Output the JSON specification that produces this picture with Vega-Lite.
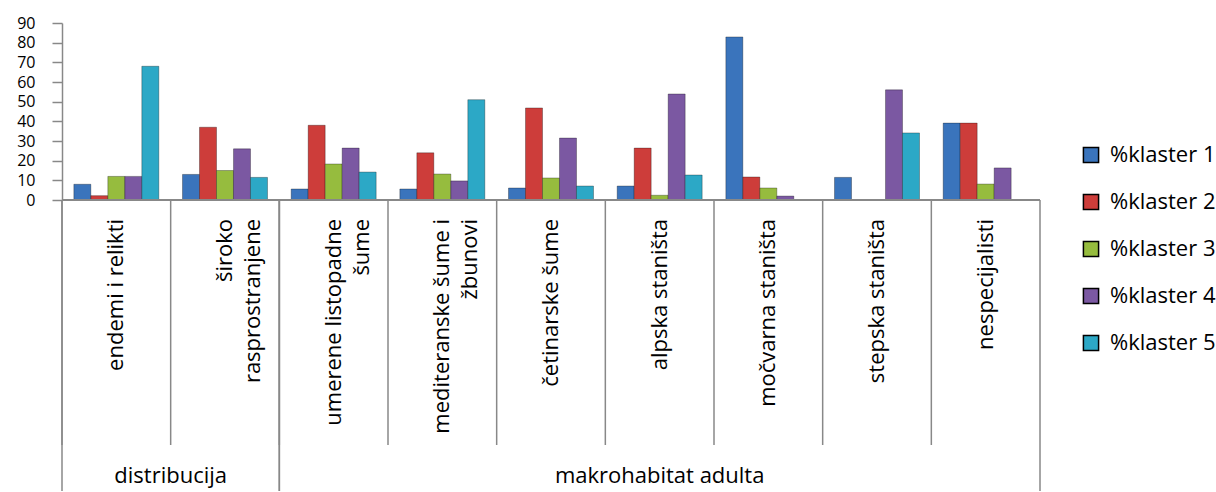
{
  "$schema": "https://vega.github.io/schema/vega-lite/v6.json",
  "padding": {"left": 5, "top": 15, "right": 0, "bottom": 0},
  "spacing": 0,
  "bounds": "flush",
  "datasets": {
    "bars": [
      {"cat": "endemi i relikti", "series": "%klaster 1", "value": 8},
      {"cat": "endemi i relikti", "series": "%klaster 2", "value": 2.2},
      {"cat": "endemi i relikti", "series": "%klaster 3", "value": 12},
      {"cat": "endemi i relikti", "series": "%klaster 4", "value": 12},
      {"cat": "endemi i relikti", "series": "%klaster 5", "value": 68},
      {"cat": "široko rasprostranjene", "series": "%klaster 1", "value": 13},
      {"cat": "široko rasprostranjene", "series": "%klaster 2", "value": 37},
      {"cat": "široko rasprostranjene", "series": "%klaster 3", "value": 15},
      {"cat": "široko rasprostranjene", "series": "%klaster 4", "value": 26},
      {"cat": "široko rasprostranjene", "series": "%klaster 5", "value": 11.5},
      {"cat": "umerene listopadne šume", "series": "%klaster 1", "value": 5.6},
      {"cat": "umerene listopadne šume", "series": "%klaster 2", "value": 38},
      {"cat": "umerene listopadne šume", "series": "%klaster 3", "value": 18.3},
      {"cat": "umerene listopadne šume", "series": "%klaster 4", "value": 26.4},
      {"cat": "umerene listopadne šume", "series": "%klaster 5", "value": 14.2},
      {"cat": "mediteranske šume i žbunovi", "series": "%klaster 1", "value": 5.6},
      {"cat": "mediteranske šume i žbunovi", "series": "%klaster 2", "value": 24},
      {"cat": "mediteranske šume i žbunovi", "series": "%klaster 3", "value": 13.2},
      {"cat": "mediteranske šume i žbunovi", "series": "%klaster 4", "value": 9.7},
      {"cat": "mediteranske šume i žbunovi", "series": "%klaster 5", "value": 51},
      {"cat": "četinarske šume", "series": "%klaster 1", "value": 6.1},
      {"cat": "četinarske šume", "series": "%klaster 2", "value": 46.8},
      {"cat": "četinarske šume", "series": "%klaster 3", "value": 11.2},
      {"cat": "četinarske šume", "series": "%klaster 4", "value": 31.5},
      {"cat": "četinarske šume", "series": "%klaster 5", "value": 7.1},
      {"cat": "alpska staništa", "series": "%klaster 1", "value": 7.1},
      {"cat": "alpska staništa", "series": "%klaster 2", "value": 26.4},
      {"cat": "alpska staništa", "series": "%klaster 3", "value": 2.4},
      {"cat": "alpska staništa", "series": "%klaster 4", "value": 53.9},
      {"cat": "alpska staništa", "series": "%klaster 5", "value": 12.7},
      {"cat": "močvarna staništa", "series": "%klaster 1", "value": 82.9},
      {"cat": "močvarna staništa", "series": "%klaster 2", "value": 11.7},
      {"cat": "močvarna staništa", "series": "%klaster 3", "value": 6.1},
      {"cat": "močvarna staništa", "series": "%klaster 4", "value": 2},
      {"cat": "močvarna staništa", "series": "%klaster 5", "value": 0},
      {"cat": "stepska staništa", "series": "%klaster 1", "value": 11.5},
      {"cat": "stepska staništa", "series": "%klaster 2", "value": 0},
      {"cat": "stepska staništa", "series": "%klaster 3", "value": 0},
      {"cat": "stepska staništa", "series": "%klaster 4", "value": 56},
      {"cat": "stepska staništa", "series": "%klaster 5", "value": 34.1},
      {"cat": "nespecijalisti", "series": "%klaster 1", "value": 39.1},
      {"cat": "nespecijalisti", "series": "%klaster 2", "value": 39.1},
      {"cat": "nespecijalisti", "series": "%klaster 3", "value": 8.1},
      {"cat": "nespecijalisti", "series": "%klaster 4", "value": 16.3},
      {"cat": "nespecijalisti", "series": "%klaster 5", "value": 0}
    ],
    "cats": [
      {"cat": "endemi i relikti", "label": "endemi i relikti"},
      {"cat": "široko rasprostranjene", "label": "široko\nrasprostranjene"},
      {"cat": "umerene listopadne šume", "label": "umerene listopadne\nšume"},
      {"cat": "mediteranske šume i žbunovi", "label": "mediteranske šume i\nžbunovi"},
      {"cat": "četinarske šume", "label": "četinarske šume"},
      {"cat": "alpska staništa", "label": "alpska staništa"},
      {"cat": "močvarna staništa", "label": "močvarna staništa"},
      {"cat": "stepska staništa", "label": "stepska staništa"},
      {"cat": "nespecijalisti", "label": "nespecijalisti"}
    ],
    "groups": [
      {"group": "distribucija", "first": "endemi i relikti", "last": "široko rasprostranjene", "mid": "široko rasprostranjene"},
      {"group": "makrohabitat adulta", "first": "umerene listopadne šume", "last": "nespecijalisti", "mid": "alpska staništa"}
    ]
  },
  "vconcat": [
    {
      "width": 978,
      "height": 177,
      "data": {"name": "bars"},
      "layer": [
        {
          "transform": [{"filter": "datum.value > 0"}],
          "mark": {"type": "bar", "stroke": "#000", "strokeOpacity": 0.3, "strokeWidth": 1},
          "encoding": {
            "x": {
              "field": "cat", "type": "nominal", "sort": null,
              "scale": {"paddingInner": 0.218, "paddingOuter": 0.109},
              "axis": null
            },
            "xOffset": {"field": "series", "type": "nominal"},
            "y": {
              "field": "value", "type": "quantitative",
              "scale": {"domain": [0, 90]},
              "axis": {
                "values": [0, 10, 20, 30, 40, 50, 60, 70, 80, 90],
                "labelOverlap": false,
                "grid": false, "title": null,
                "labelFontSize": 16, "labelFont": "Open Sans", "labelColor": "#000",
                "labelPadding": 17, "tickSize": 10, "tickColor": "#888", "tickWidth": 1.5,
                "domainColor": "#888", "domainWidth": 1.5,
                "minExtent": 57, "maxExtent": 57
              }
            },
            "color": {
              "field": "series", "type": "nominal",
              "scale": {"range": ["#3A74BC", "#CD3D3A", "#96BC3E", "#7B58A2", "#2CA8C6"]},
              "legend": {
                "title": null, "orient": "none", "legendX": 1018, "legendY": 121,
                "labelFontSize": 22, "labelFont": "Open Sans", "labelColor": "#000",
                "symbolType": "square", "symbolSize": 230, "rowPadding": 25,
                "labelOffset": 8, "padding": 0, "labelLimit": 200
              }
            }
          }
        },
        {
          "mark": {"type": "rule", "color": "#888", "strokeWidth": 1.5},
          "encoding": {
            "y": {
              "datum": 0, "type": "quantitative",
              "axis": {
                "values": [0, 10, 20, 30, 40, 50, 60, 70, 80, 90],
                "labelOverlap": false,
                "grid": false, "title": null,
                "labelFontSize": 16, "labelFont": "Open Sans", "labelColor": "#000",
                "labelPadding": 17, "tickSize": 10, "tickColor": "#888", "tickWidth": 1.5,
                "domainColor": "#888", "domainWidth": 1.5,
                "minExtent": 57, "maxExtent": 57
              }
            }
          }
        }
      ]
    },
    {
      "width": 978,
      "height": 291,
      "layer": [
        {
          "data": {"name": "cats"},
          "mark": {"type": "rule", "color": "#888", "strokeWidth": 1.5},
          "encoding": {
            "x": {"field": "cat", "type": "nominal", "bandPosition": 0,
              "scale": {"type": "band", "paddingInner": 0, "paddingOuter": 0,
                "domain": ["endemi i relikti", "široko rasprostranjene", "umerene listopadne šume", "mediteranske šume i žbunovi", "četinarske šume", "alpska staništa", "močvarna staništa", "stepska staništa", "nespecijalisti"]},
              "axis": null},
            "y": {"datum": 0, "type": "quantitative", "scale": {"domain": [0, 100], "reverse": true}, "axis": null},
            "y2": {"datum": 84.2}
          }
        },
        {
          "data": {"name": "groups"},
          "mark": {"type": "rule", "color": "#888", "strokeWidth": 1.5},
          "encoding": {
            "x": {"field": "first", "type": "nominal", "bandPosition": 0},
            "y": {"datum": 0, "type": "quantitative"},
            "y2": {"datum": 100}
          }
        },
        {
          "data": {"name": "groups"},
          "mark": {"type": "rule", "color": "#888", "strokeWidth": 1.5},
          "encoding": {
            "x": {"field": "last", "type": "nominal", "bandPosition": 1},
            "y": {"datum": 0, "type": "quantitative"},
            "y2": {"datum": 100}
          }
        },
        {
          "data": {"name": "cats"},
          "mark": {"type": "text", "angle": 270, "align": "right", "baseline": "middle", "lineBreak": "\n", "lineHeight": 28, "fontSize": 22, "font": "Open Sans", "color": "#000"},
          "encoding": {
            "x": {"field": "cat", "type": "nominal", "bandPosition": 0.5},
            "y": {"datum": 6.5, "type": "quantitative"},
            "text": {"field": "label"}
          }
        },
        {
          "data": {"name": "groups"},
          "transform": [{"filter": "datum.group === 'distribucija'"}],
          "mark": {"type": "text", "align": "center", "baseline": "alphabetic", "fontSize": 22, "font": "Open Sans", "color": "#000"},
          "encoding": {
            "x": {"field": "mid", "type": "nominal", "bandPosition": 0},
            "y": {"datum": 97.4, "type": "quantitative"},
            "text": {"field": "group"}
          }
        },
        {
          "data": {"name": "groups"},
          "transform": [{"filter": "datum.group === 'makrohabitat adulta'"}],
          "mark": {"type": "text", "align": "center", "baseline": "alphabetic", "fontSize": 22, "font": "Open Sans", "color": "#000"},
          "encoding": {
            "x": {"field": "mid", "type": "nominal", "bandPosition": 0.5},
            "y": {"datum": 97.4, "type": "quantitative"},
            "text": {"field": "group"}
          }
        }
      ]
    }
  ],
  "config": {
    "view": {"stroke": null},
    "font": "Open Sans"
  }
}
